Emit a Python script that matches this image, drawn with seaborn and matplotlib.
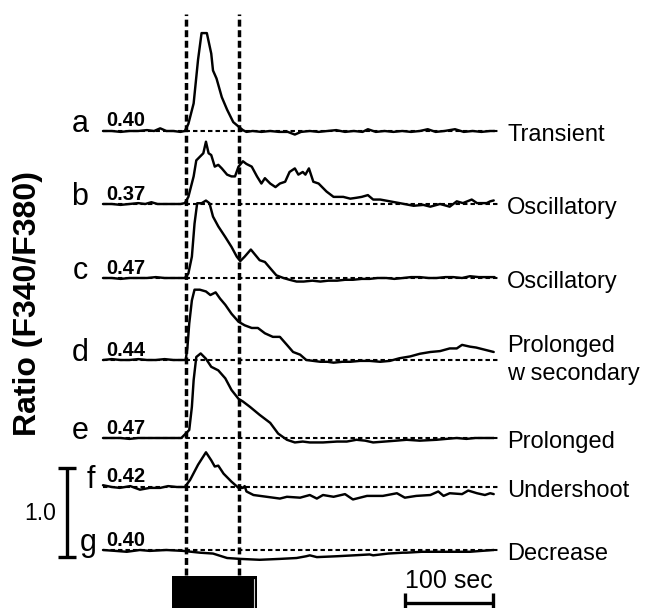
import numpy as np
import pandas as pd
import matplotlib
matplotlib.use("Agg")
import matplotlib.pyplot as plt
import seaborn as sns

# ---------------- data (time in s, ratio F340/F380) ----------------
letters = ["a", "b", "c", "d", "e", "f", "g"]
categories = ["Transient", "Oscillatory", "Oscillatory", "Prolonged\nw secondary",
              "Prolonged", "Undershoot", "Decrease"]
baseline_vals = [0.40, 0.37, 0.47, 0.44, 0.47, 0.42, 0.40]
baseline_labels = ["0.40", "0.37", "0.47", "0.44", "0.47", "0.42", "0.40"]

a_t = [0, 10, 20, 30, 40, 50, 58, 65, 72, 80, 88, 93,
       97, 103, 108, 112, 118, 123, 125, 129, 135, 141, 148, 154, 159, 163,
       170, 180, 190, 200, 210, 218, 225, 235, 245, 255, 265, 275, 285, 295, 301,
       310, 320, 330, 340, 350, 360, 369, 378, 388, 400, 410, 420, 430, 440, 445]
a_r = [0.40, 0.40, 0.39, 0.40, 0.40, 0.41, 0.40, 0.43, 0.40, 0.40, 0.39, 0.40,
       0.48, 0.71, 1.20, 1.50, 1.50, 1.27, 1.08, 0.99, 0.78, 0.64, 0.50, 0.45, 0.41, 0.39,
       0.40, 0.39, 0.40, 0.39, 0.39, 0.36, 0.39, 0.40, 0.39, 0.40, 0.41, 0.39, 0.40, 0.39, 0.42,
       0.39, 0.40, 0.39, 0.40, 0.39, 0.40, 0.42, 0.39, 0.40, 0.42, 0.39, 0.40, 0.39, 0.40, 0.40]

b_t = [0, 10, 20, 30, 40, 48, 55, 62, 70, 80, 88, 93,
       97, 103, 106, 110, 114, 117, 120, 123, 127, 131, 135, 141, 146, 150, 154, 159, 163,
       169, 175, 180, 184, 190, 196, 201, 207, 212, 218, 222, 227, 230, 234, 239, 245, 254,
       262, 273, 281, 288, 294, 301, 307, 315, 326, 337, 353, 364, 372, 383, 394, 402, 409,
       419, 425, 436, 440, 444]
b_r = [0.37, 0.37, 0.36, 0.37, 0.38, 0.37, 0.39, 0.37, 0.37, 0.37, 0.37, 0.38,
       0.45, 0.68, 0.86, 0.90, 0.94, 1.07, 0.94, 0.92, 0.79, 0.81, 0.77, 0.70, 0.68, 0.68, 0.79,
       0.85, 0.82, 0.79, 0.68, 0.60, 0.66, 0.60, 0.56, 0.60, 0.62, 0.73, 0.77, 0.70, 0.73, 0.70,
       0.77, 0.62, 0.60, 0.51, 0.45, 0.45, 0.43, 0.44, 0.45, 0.47, 0.42, 0.42, 0.40, 0.38, 0.35,
       0.36, 0.34, 0.37, 0.34, 0.40, 0.38, 0.42, 0.38, 0.38, 0.40, 0.41]

c_t = [0, 10, 20, 30, 40, 50, 60, 70, 80, 88, 93,
       97, 101, 104, 107, 112, 117, 121, 125, 131, 139, 146, 152, 156, 161, 168, 173, 178,
       184, 190, 197, 205, 212, 220, 228, 238, 247, 256, 266, 275, 284, 294, 303, 312, 322,
       331, 341, 350, 360, 370, 379, 389, 398, 408, 417, 427, 436, 445]
c_r = [0.47, 0.47, 0.46, 0.47, 0.47, 0.47, 0.48, 0.47, 0.47, 0.47, 0.47,
       0.52, 0.71, 1.08, 1.31, 1.31, 1.34, 1.31, 1.16, 1.05, 0.93, 0.82, 0.71, 0.66, 0.71, 0.79,
       0.73, 0.67, 0.65, 0.58, 0.50, 0.47, 0.45, 0.43, 0.43, 0.44, 0.43, 0.44, 0.44, 0.45, 0.45,
       0.46, 0.46, 0.47, 0.47, 0.46, 0.47, 0.48, 0.48, 0.47, 0.47, 0.48, 0.48, 0.47, 0.49, 0.48,
       0.48, 0.48]

d_t = [0, 10, 20, 30, 40, 50, 60, 70, 80, 88, 94,
       96, 98, 101, 104, 110, 117, 122, 128, 133, 139, 146, 154, 161, 169, 176, 184, 193,
       201, 209, 216, 224, 231, 239, 247, 255, 262, 272, 281, 292, 303, 315, 326, 337, 349,
       360, 372, 383, 394, 402, 408, 417, 424, 432, 444]
d_r = [0.44, 0.45, 0.44, 0.44, 0.45, 0.44, 0.44, 0.45, 0.44, 0.44, 0.44,
       0.59, 0.85, 1.11, 1.23, 1.23, 1.21, 1.17, 1.20, 1.13, 1.06, 0.96, 0.87, 0.83, 0.80, 0.80,
       0.74, 0.70, 0.70, 0.61, 0.53, 0.50, 0.44, 0.43, 0.42, 0.42, 0.41, 0.42, 0.42, 0.43, 0.43,
       0.42, 0.43, 0.46, 0.48, 0.51, 0.53, 0.54, 0.57, 0.57, 0.61, 0.59, 0.58, 0.56, 0.53]

e_t = [0, 10, 20, 30, 40, 50, 60, 70, 80, 89,
       94, 98, 101, 103, 106, 111, 117, 123, 131, 139, 146, 154, 159, 167, 178, 190, 199,
       209, 218, 227, 235, 250, 266, 277, 288, 298, 307, 320, 333, 345, 360, 379, 390, 402,
       413, 423, 434, 444]
e_r = [0.47, 0.47, 0.47, 0.46, 0.47, 0.47, 0.47, 0.47, 0.47, 0.47,
       0.52, 0.56, 0.82, 1.12, 1.38, 1.42, 1.36, 1.27, 1.23, 1.14, 1.01, 0.91, 0.88, 0.82, 0.73,
       0.64, 0.52, 0.45, 0.42, 0.43, 0.42, 0.42, 0.43, 0.43, 0.45, 0.44, 0.42, 0.43, 0.44, 0.45,
       0.44, 0.45, 0.46, 0.47, 0.46, 0.47, 0.47, 0.47]

f_t = [0, 10, 19, 31, 42, 53, 65, 74, 84, 93,
       99, 108, 117, 123, 127, 131, 137, 146, 154, 159, 161, 163, 171, 186, 201, 209, 224,
       235, 243, 250, 262, 275, 284, 300, 318, 334, 343, 356, 372, 381, 387, 394, 408, 415,
       425, 434, 440, 444]
f_r = [0.44, 0.42, 0.41, 0.43, 0.39, 0.41, 0.41, 0.43, 0.42, 0.42,
       0.50, 0.67, 0.81, 0.72, 0.65, 0.66, 0.57, 0.48, 0.41, 0.41, 0.43, 0.37, 0.33, 0.31, 0.29,
       0.31, 0.30, 0.33, 0.29, 0.33, 0.31, 0.34, 0.28, 0.32, 0.32, 0.35, 0.30, 0.32, 0.33, 0.37,
       0.32, 0.35, 0.34, 0.38, 0.35, 0.33, 0.35, 0.34]

g_t = [0, 14, 27, 42, 53, 72, 91, 110, 125, 141, 156, 178, 201, 220, 231, 235, 243, 266,
       285, 303, 307, 324, 341, 345, 362, 379, 383, 400, 417, 430, 444]
g_r = [0.40, 0.39, 0.38, 0.40, 0.39, 0.40, 0.39, 0.37, 0.36, 0.31, 0.30, 0.29, 0.30, 0.31,
       0.33, 0.34, 0.32, 0.33, 0.34, 0.35, 0.34, 0.36, 0.37, 0.37, 0.38, 0.38, 0.38, 0.38,
       0.38, 0.39, 0.40]

times = [a_t, b_t, c_t, d_t, e_t, f_t, g_t]
ratios = [a_r, b_r, c_r, d_r, e_r, f_r, g_r]

stim_on_off = [94, 154]          # dashed vertical markers (s)
stim_box = [78, 175]             # black bar under the traces (s)
time_bar = [343, 443]            # 100 sec scale bar
ratio_bar = 1.0                  # vertical scale bar (ratio units)

# ---------------- layout (pixel geometry of the figure) ----------------
W, H = 647, 608
X0, PX_PER_S = 103, 0.88
PX_PER_UNIT = 89.0
base_px = [131, 204, 278, 360, 438, 487, 550]


def xs(px):
    return (px - X0) / PX_PER_S


def ys(px):
    return (H - px) / PX_PER_UNIT


sns.set_theme(style="white")
plt.rcParams["font.family"] = ["Liberation Sans", "DejaVu Sans"]
plt.rcParams["text.color"] = "black"
plt.rcParams["lines.scale_dashes"] = False

fig = plt.figure(figsize=(W / 100, H / 100), dpi=100)
ax = fig.add_axes([0, 0, 1, 1])
ax.set_xlim(xs(0), xs(W))
ax.set_ylim(0, H / PX_PER_UNIT)
ax.axis("off")

rows = []
for i, (tt, rr) in enumerate(zip(times, ratios)):
    off = ys(base_px[i])
    for t, r in zip(tt, rr):
        rows.append({"trace": letters[i], "t": t, "y": off + (r - baseline_vals[i])})
df = pd.DataFrame(rows)

# baselines (dashed)
for i in range(7):
    off = ys(base_px[i])
    ax.plot([0, 451], [off, off], color="black", lw=1.5,
            linestyle=(0, (3.2, 2.2)), solid_capstyle="butt", zorder=2)

# traces
sns.lineplot(data=df, x="t", y="y", units="trace", estimator=None,
             color="black", lw=1.75, ax=ax, legend=False, zorder=3, sort=False)

# stimulus vertical dashed lines
for tv in stim_on_off:
    ax.plot([tv, tv], [ys(575), ys(14)], color="black", lw=2.5,
            linestyle=(0, (5.0, 2.6)), zorder=4)

# stimulus box
ax.fill_between(stim_box, 0, ys(576), color="black", lw=0, zorder=5)
ax.plot([xs(253.5), xs(253.5)], [ys(579), 0], color="#cfcfcf", lw=0.8, zorder=6)

# labels
letter_x = [80, 80, 80, 80, 80, 91, 88]
for i in range(7):
    ax.text(xs(letter_x[i]), ys(base_px[i] + 1), letters[i], fontsize=22,
            ha="center", va="baseline", color="black")
    ax.text(xs(106), ys(base_px[i] - 4.5), baseline_labels[i], fontsize=14.5,
            fontweight="bold", ha="left", va="baseline", color="black")
    lines = categories[i].split("\n")
    if len(lines) == 1:
        ax.text(xs(507), ys(base_px[i] + 10), lines[0], fontsize=17,
                ha="left", va="baseline", color="black")
    else:
        ax.text(xs(507), ys(base_px[i] - 8), lines[0], fontsize=17,
                ha="left", va="baseline", color="black")
        ax.text(xs(507), ys(base_px[i] + 20), lines[1], fontsize=17,
                ha="left", va="baseline", color="black")

ax.text(xs(28), ys(303), "Ratio (F340/F380)", fontsize=23, fontweight="bold",
        rotation=90, ha="center", va="center", color="black")

# vertical scale bar (1.0 ratio units)
vb_x = xs(67)
vb_bottom = ys(557)
ax.plot([vb_x, vb_x], [vb_bottom, vb_bottom + ratio_bar], color="black", lw=2.4,
        solid_capstyle="butt")
for yy in [vb_bottom, vb_bottom + ratio_bar]:
    ax.plot([xs(58.5), xs(75.5)], [yy, yy], color="black", lw=2.4, solid_capstyle="butt")
ax.text(xs(40), ys(513), "1.0", fontsize=16.5, ha="center", va="center", color="black")

# horizontal scale bar (100 sec)
hb_y = ys(603)
ax.plot(time_bar, [hb_y, hb_y], color="black", lw=2.4, solid_capstyle="butt")
for tx in time_bar:
    ax.plot([tx, tx], [ys(593), ys(608)], color="black", lw=2.4, solid_capstyle="butt")
ax.text((time_bar[0] + time_bar[1]) / 2, ys(588), "100 sec", fontsize=18,
        ha="center", va="baseline", color="black")

fig.savefig("out.png", dpi=100, facecolor="white")
